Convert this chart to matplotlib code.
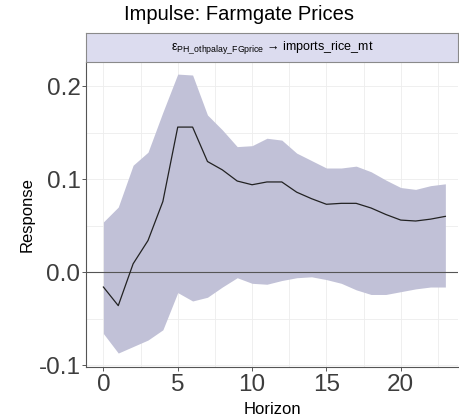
import numpy as np
import matplotlib.pyplot as plt

# impulse response values
horizon = list(range(24))
response = [-0.016, -0.036, 0.009, 0.034, 0.076, 0.156, 0.156, 0.119, 0.110, 0.098,
            0.094, 0.097, 0.097, 0.086, 0.079, 0.073, 0.074, 0.074, 0.069, 0.062,
            0.056, 0.055, 0.057, 0.060]
upper = [0.054, 0.070, 0.115, 0.129, 0.172, 0.213, 0.212, 0.169, 0.153, 0.135,
         0.136, 0.144, 0.142, 0.128, 0.120, 0.112, 0.112, 0.114, 0.108, 0.099,
         0.091, 0.089, 0.093, 0.095]
lower = [-0.066, -0.087, -0.080, -0.073, -0.062, -0.022, -0.031, -0.027, -0.016, -0.006,
         -0.012, -0.013, -0.009, -0.006, -0.005, -0.008, -0.012, -0.019, -0.024, -0.024,
         -0.021, -0.018, -0.016, -0.016]
xticks = [0, 5, 10, 15, 20]
yticks = [-0.1, 0.0, 0.1, 0.2]
ytick_labels = ["-0.1", "0.0", "0.1", "0.2"]

plt.rcParams['font.family'] = ['Liberation Sans', 'DejaVu Sans']
plt.rcParams['mathtext.fontset'] = 'custom'
plt.rcParams['mathtext.rm'] = 'Liberation Sans'

W, H = 459, 416
fig = plt.figure(figsize=(W / 100, H / 100), dpi=100)
ax = fig.add_axes([86 / W, 1 - 367 / H, 372 / W, 305 / H])

ax.set_xlim(-1.17, 23.85)
ax.set_ylim(-0.102, 0.226)

# faint grid
for v in np.arange(-0.1, 0.25, 0.05):
    ax.axhline(v, color="#ededed", lw=0.6, zorder=0)
for v in np.arange(0, 24, 2.5):
    ax.axvline(v, color="#ededed", lw=0.6, zorder=0)

ax.fill_between(horizon, lower, upper, color="#c1c1d7", lw=0, zorder=1)
ax.axhline(0, color="#555555", lw=0.8, zorder=2)
ax.plot(horizon, response, color="#222222", lw=0.9, zorder=3)

ax.set_xticks(xticks)
ax.set_yticks(yticks)
ax.set_yticklabels(ytick_labels)
ax.tick_params(labelsize=17.5, colors="#3d3d3d", length=3, width=0.6)
ax.tick_params(axis="x", pad=2)
ax.tick_params(axis="y", pad=1)
for s in ["top", "right"]:
    ax.spines[s].set_visible(False)
for s in ["left", "bottom"]:
    ax.spines[s].set_color("#555555")
    ax.spines[s].set_linewidth(0.8)

ax.set_xlabel("Horizon", fontsize=12, color="black", labelpad=4)
ax.set_ylabel("Response", fontsize=12, color="black", labelpad=2.5)

# strip header
strip = fig.add_axes([86 / W, 1 - 62 / H, 372 / W, 29 / H])
strip.set_xticks([])
strip.set_yticks([])
strip.set_facecolor("#dcdcef")
for s in strip.spines.values():
    s.set_color("#8a8a8a")
    s.set_linewidth(0.8)
strip.text(0.5, 0.5, r"$\mathregular{ε_{PH\_othpalay\_FGprice}}$" + " → imports_rice_mt",
           ha="center", va="center", fontsize=9, transform=strip.transAxes)

fig.text(239 / W, 1 - 14 / H, "Impulse: Farmgate Prices", ha="center", va="center", fontsize=14.5)

fig.savefig("out.png", dpi=100)
